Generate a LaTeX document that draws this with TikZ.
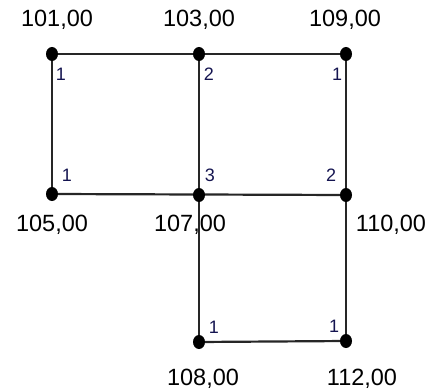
\documentclass[tikz,border=0pt]{standalone}
\usepackage{fontspec}
\setmainfont{Liberation Sans}
\definecolor{navy}{RGB}{20,20,80}
\begin{document}
\begin{tikzpicture}[x=1pt,y=-1pt,
  biglbl/.style={font=\fontsize{23.5}{25}\selectfont,text=black,inner sep=0pt},
  smalllbl/.style={font=\fontsize{18}{20}\selectfont,text=navy,inner sep=0pt},
  edge/.style={line width=2.2pt,draw=black!85}]
\useasboundingbox (0,0) rectangle (433,390);
\coordinate (A) at (52,54);
\coordinate (B) at (199,54);
\coordinate (C) at (346,54);
\coordinate (D) at (52,194);
\coordinate (E) at (199,195);
\coordinate (F) at (346,195);
\coordinate (G) at (199,342);
\coordinate (H) at (346,341);
\draw[edge] (A) -- (C);
\draw[edge] (A) -- (D);
\draw[edge] (B) -- (E);
\draw[edge] (C) -- (F);
\draw[edge] (D) -- (F);
\draw[edge] (E) -- (G);
\draw[edge] (F) -- (H);
\draw[edge] (G) -- (H);
\foreach \p in {A,B,C,D,E,F,G,H} \fill (\p) ellipse [x radius=6pt, y radius=7pt];
\node[biglbl] (lA) at (57,20) {101,00};
\node[biglbl] (lB) at (199,20) {103,00};
\node[biglbl] (lC) at (345,20) {109,00};
\node[biglbl] (lD) at (52,225) {105,00};
\node[biglbl] (lE) at (190,225) {107,00};
\node[biglbl] (lF) at (391,225) {110,00};
\node[biglbl] (lG) at (203,379) {108,00};
\node[biglbl] (lH) at (362,379) {112,00};
\node[smalllbl] (nA) at (61,74) {1};
\node[smalllbl] (nB) at (209,74) {2};
\node[smalllbl] (nC) at (337,74) {1};
\node[smalllbl] (nD) at (67,175) {1};
\node[smalllbl] (nE) at (210,175) {3};
\node[smalllbl] (nF) at (331,175) {2};
\node[smalllbl] (nG) at (214,327) {1};
\node[smalllbl] (nH) at (334,326) {1};
\end{tikzpicture}
\end{document}
